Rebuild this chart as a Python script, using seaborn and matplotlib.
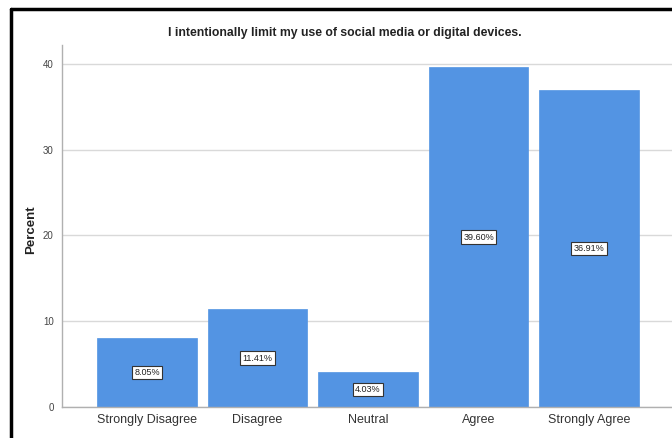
import matplotlib
matplotlib.use("Agg")
import matplotlib.pyplot as plt
import seaborn as sns
import pandas as pd
from matplotlib.lines import Line2D

categories = ["Strongly Disagree", "Disagree", "Neutral", "Agree", "Strongly Agree"]
percents = [8.05, 11.41, 4.03, 39.60, 36.91]
labels = ["8.05%", "11.41%", "4.03%", "39.60%", "36.91%"]
yticks = [0, 10, 20, 30, 40]

df = pd.DataFrame({"category": categories, "percent": percents})

sns.set_theme(style="white")
plt.rcParams["font.family"] = ["Liberation Sans", "DejaVu Sans"]

fig = plt.figure(figsize=(6.72, 4.38), dpi=100)
ax = fig.add_axes([62/672, 31/438, 610/672, 362/438])

sns.barplot(data=df, x="category", y="percent", color="#5394e3", saturation=1,
            width=0.9, edgecolor="#5394e3", linewidth=0.5, ax=ax)

for i, (v, t) in enumerate(zip(percents, labels)):
    ax.text(i, v/2, t, ha="center", va="center", fontsize=6.5, color="#222222",
            bbox=dict(boxstyle="square,pad=0.25", facecolor="white", edgecolor="#333333", linewidth=0.8))

ax.set_xlim(-0.77, 4.75)
ax.set_ylim(0, 42.2)
ax.set_yticks(yticks)
ax.set_yticklabels([str(y) for y in yticks], fontsize=7, color="#444444")
ax.tick_params(axis="x", labelsize=9, colors="#333333", length=0, pad=5)
ax.tick_params(axis="y", length=0, pad=6)
ax.yaxis.grid(True, color="#d9d9d9", linewidth=1)
ax.set_axisbelow(True)
ax.set_xlabel("")
ax.set_ylabel("Percent", fontsize=9.5, fontweight="bold", color="#222222")
ax.yaxis.set_label_coords(-0.04, 0.49)
for s in ["top", "right"]:
    ax.spines[s].set_visible(False)
for s in ["left", "bottom"]:
    ax.spines[s].set_color("#b0b0b0")
    ax.spines[s].set_linewidth(1)

fig.text(345/672, 1 - 33/438, "I intentionally limit my use of social media or digital devices.",
         ha="center", va="center", fontsize=8.8, fontweight="bold", color="#222222")

# frame border
fig.add_artist(Line2D([11/672, 11/672], [0, 1 - 9/438], color="black", linewidth=2.5, transform=fig.transFigure))
fig.add_artist(Line2D([11/672, 1], [1 - 9/438, 1 - 9/438], color="black", linewidth=2.5, transform=fig.transFigure))

fig.savefig("out.png", dpi=100)
